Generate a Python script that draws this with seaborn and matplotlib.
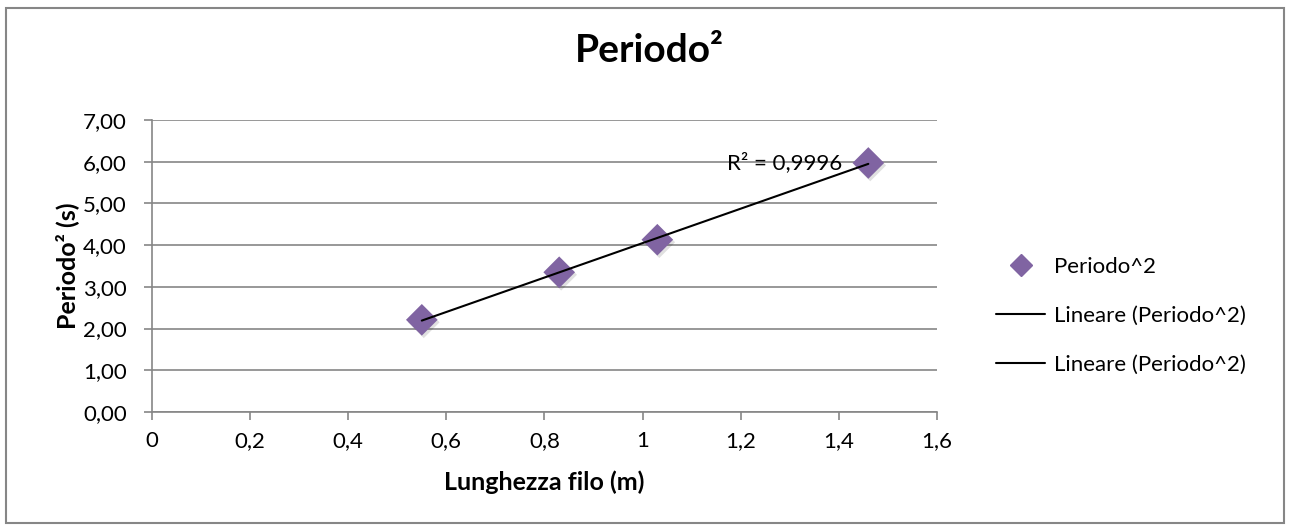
import matplotlib
matplotlib.use("Agg")
import matplotlib.pyplot as plt
import seaborn as sns
import numpy as np
import pandas as pd
from matplotlib.ticker import FuncFormatter, MultipleLocator
from matplotlib.lines import Line2D
from matplotlib.patches import Rectangle

# Data
lunghezza = [0.55, 0.83, 1.03, 1.46]
periodo2 = [2.21, 3.35, 4.13, 5.97]
r2_label = "R² = 0,9996"
title = "Periodo²"
xlabel = "Lunghezza filo (m)"
ylabel = "Periodo² (s)"
series_name = "Periodo^2"
trend_name = "Lineare (Periodo^2)"

sns.set_style("white")
plt.rcParams['font.family'] = ['Lato', 'DejaVu Sans']
plt.rcParams['text.color'] = 'black'
plt.rcParams['axes.labelcolor'] = 'black'
plt.rcParams['xtick.labelcolor'] = 'black'
plt.rcParams['ytick.labelcolor'] = 'black'

df = pd.DataFrame({"x": lunghezza, "y": periodo2})
coef = np.polyfit(df["x"], df["y"], 1)
fit = pd.DataFrame({"x": [min(lunghezza), max(lunghezza)]})
fit["y"] = np.polyval(coef, fit["x"])

fig = plt.figure(figsize=(12.91, 5.31), dpi=100)
ax = fig.add_axes([0.1177, 0.2241, 0.6081, 0.5499])

grid_c = "#868686"
ax.set_xlim(0, 1.6)
ax.set_ylim(0, 7)
ax.yaxis.set_major_locator(MultipleLocator(1))
ax.xaxis.set_major_locator(MultipleLocator(0.2))
ax.grid(axis="y", color=grid_c, linewidth=1.2)
ax.grid(axis="x", visible=False)
ax.set_axisbelow(True)

purple = "#8064A2"
# shadow
sns.scatterplot(data=df.assign(x=df["x"] + 0.004, y=df["y"] - 0.06), x="x", y="y",
                marker="D", s=260, color="#000000", alpha=0.12, edgecolor="none",
                ax=ax, legend=False, zorder=2)
sns.scatterplot(data=df, x="x", y="y", marker="D", s=260, color=purple,
                edgecolor="none", ax=ax, legend=False, zorder=3)
sns.lineplot(data=fit, x="x", y="y", color="black", linewidth=1.5, ax=ax,
             legend=False, zorder=4)

ax.text(1.29, 5.97, r2_label, fontsize=16, ha="center", va="center", zorder=5)

for s in ["top", "right"]:
    ax.spines[s].set_visible(False)
for s in ["left", "bottom"]:
    ax.spines[s].set_color(grid_c)
    ax.spines[s].set_linewidth(1.2)

ax.tick_params(axis="both", which="major", direction="out", length=6, width=1.2,
               color=grid_c, labelcolor="black", labelsize=16, left=True, bottom=True)
ax.tick_params(axis="y", pad=12)
ax.tick_params(axis="x", pad=8)

def yfmt(v, p):
    return f"{v:.2f}".replace(".", ",")

def xfmt(v, p):
    s = f"{v:.1f}"
    if s.endswith(".0"):
        s = s[:-2]
    return s.replace(".", ",")

ax.yaxis.set_major_formatter(FuncFormatter(yfmt))
ax.xaxis.set_major_formatter(FuncFormatter(xfmt))

ax.set_xlabel(xlabel, fontsize=18, fontweight="bold", labelpad=14, color="black")
ax.set_ylabel(ylabel, fontsize=18, fontweight="bold", labelpad=3, color="black")
fig.text(0.503, 0.905, title, fontsize=28, fontweight="bold", ha="center", va="center",
         color="black")

handles = [
    Line2D([], [], marker="D", linestyle="none", color=purple, markersize=11),
    Line2D([], [], color="black", linewidth=1.5),
    Line2D([], [], color="black", linewidth=1.5),
]
fig.legend(handles, [series_name, trend_name, trend_name], loc="upper left",
           bbox_to_anchor=(0.763, 0.537), frameon=False, fontsize=16,
           labelspacing=1.3, handlelength=2.2, handletextpad=0.4, borderpad=0)

fig.patches.append(Rectangle((0.0047, 0.015), 0.990, 0.970, transform=fig.transFigure,
                             fill=False, edgecolor=grid_c, linewidth=1.5))

fig.savefig("out.png", dpi=100)
